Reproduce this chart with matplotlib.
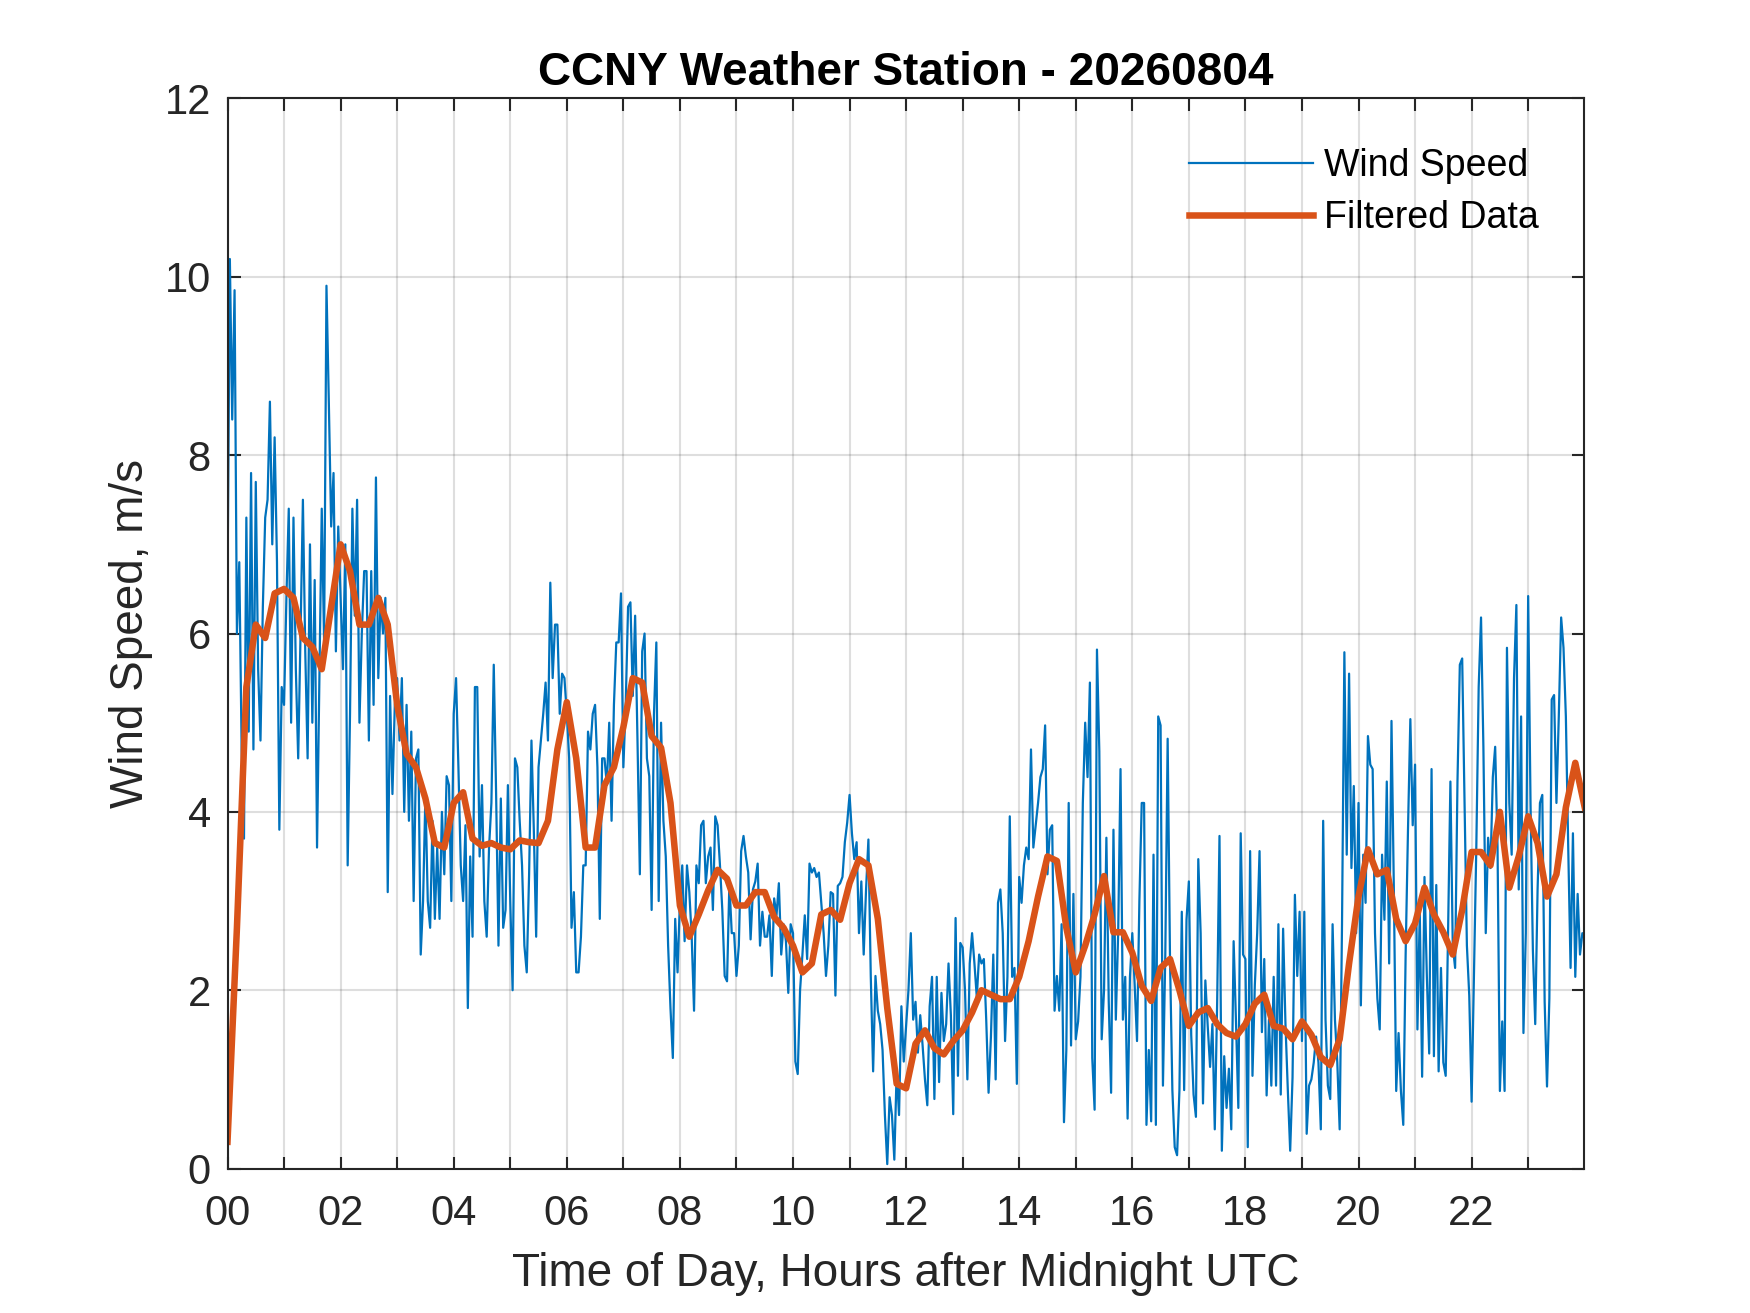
import matplotlib
matplotlib.use('Agg')
import matplotlib.pyplot as plt
import numpy as np

# Wind speed, m/s, every 2.5 minutes (24 per hour, one row per hour)
wind_00_04 = [6.5, 10.2, 8.4, 9.85, 6.0, 6.8, 4.7, 3.7, 7.3, 4.9, 7.8, 4.7, 7.7, 5.6, 4.8, 6.3, 7.3, 7.5, 8.6, 7.0, 8.2, 6.8, 3.8, 5.4,
              5.2, 6.4, 7.4, 5.0, 7.3, 5.6, 4.6, 6.0, 7.5, 5.8, 4.6, 7.0, 5.0, 6.6, 3.6, 5.5, 7.4, 5.9, 9.9, 8.6, 7.2, 7.8, 5.8, 7.2,
              6.4, 5.6, 7.0, 3.4, 5.1, 7.4, 6.2, 7.5, 5.0, 6.0, 6.7, 6.7, 4.8, 6.7, 5.2, 7.75, 5.5, 6.4, 6.0, 6.4, 3.1, 5.3, 4.2, 5.2,
              5.5, 4.8, 5.5, 4.0, 5.2, 3.9, 4.9, 3.0, 4.6, 4.7, 2.4, 3.0, 4.2, 3.0, 2.7, 3.9, 2.8, 3.6, 2.8, 4.0, 3.3, 4.4, 4.3, 3.0]
wind_04_08 = [5.1, 5.5, 4.5, 3.4, 3.0, 3.85, 1.8, 3.5, 2.6, 5.4, 5.4, 3.5, 4.3, 3.0, 2.6, 3.6, 4.1, 5.65, 4.2, 2.5, 4.15, 2.7, 2.9, 4.3,
              3.0, 2.0, 4.6, 4.5, 3.9, 3.4, 2.5, 2.2, 3.3, 4.8, 3.8, 2.6, 4.5, 4.8, 5.1, 5.45, 4.8, 6.57, 5.5, 6.1, 6.1, 5.1, 5.55, 5.5,
              5.1, 4.6, 2.7, 3.1, 2.2, 2.2, 2.6, 3.4, 3.4, 4.9, 4.7, 5.1, 5.2, 4.5, 2.8, 4.6, 4.6, 4.3, 5.0, 3.9, 5.2, 5.9, 5.9, 6.45,
              4.5, 5.2, 6.3, 6.35, 5.3, 6.2, 4.8, 3.3, 5.8, 6.0, 4.6, 4.4, 2.9, 5.1, 5.9, 3.0, 5.0, 3.9, 3.5, 2.5, 1.8, 1.24, 2.8, 2.2]
wind_08_12 = [3.0, 3.4, 2.55, 3.4, 3.1, 2.6, 1.77, 3.4, 3.2, 3.85, 3.9, 3.2, 3.5, 3.6, 2.9, 3.95, 3.85, 3.4, 2.9, 2.16, 2.1, 3.2, 2.64, 2.64,
              2.16, 2.5, 3.56, 3.73, 3.5, 3.32, 2.57, 3.13, 3.22, 3.42, 2.5, 2.88, 2.6, 2.6, 2.84, 2.16, 3.03, 2.84, 3.2, 2.4, 2.74, 2.55, 1.97, 2.74,
              2.64, 1.2, 1.06, 2.0, 2.4, 2.84, 2.35, 3.42, 3.32, 3.37, 3.27, 3.32, 2.98, 2.64, 2.16, 2.5, 3.1, 3.08, 1.94, 3.17, 3.2, 3.27, 3.66, 3.88,
              4.19, 3.76, 3.47, 3.66, 2.64, 3.22, 2.4, 3.13, 3.69, 2.16, 1.09, 2.16, 1.77, 1.62, 1.33, 0.6, 0.05, 0.8, 0.6, 0.1, 1.1, 0.6, 1.82, 1.2]
wind_12_16 = [1.6, 2.0, 2.64, 1.67, 1.87, 1.3, 1.72, 1.38, 1.0, 0.71, 1.82, 2.15, 0.78, 2.15, 0.97, 1.97, 1.43, 1.62, 2.3, 1.72, 0.61, 2.81, 1.04, 2.53,
              2.48, 2.0, 1.0, 2.3, 2.64, 2.3, 1.92, 2.4, 2.3, 2.35, 1.67, 0.85, 1.48, 2.4, 1.0, 2.98, 3.13, 2.64, 1.43, 2.15, 3.95, 2.15, 2.25, 0.95,
              3.27, 2.98, 3.4, 3.6, 3.47, 4.7, 3.6, 3.85, 4.1, 4.39, 4.48, 4.97, 3.3, 3.8, 3.85, 1.77, 2.16, 1.77, 2.74, 0.52, 1.33, 4.1, 1.38, 3.08,
              1.45, 1.65, 2.15, 4.1, 5.0, 4.39, 5.45, 1.24, 0.66, 5.82, 4.68, 1.45, 2.0, 3.71, 1.87, 0.85, 3.8, 1.67, 2.64, 4.48, 1.67, 2.15, 0.56, 2.15]
wind_16_20 = [2.64, 2.06, 1.43, 3.0, 4.1, 4.1, 0.49, 1.33, 0.53, 3.52, 0.49, 5.07, 4.97, 0.93, 2.4, 4.82, 2.35, 0.88, 0.24, 0.15, 0.88, 2.88, 0.88, 2.79,
              3.22, 1.5, 0.83, 0.58, 3.47, 2.64, 0.73, 2.11, 1.6, 1.14, 1.62, 0.44, 1.85, 3.73, 0.2, 1.26, 0.68, 1.12, 0.44, 2.55, 1.65, 0.68, 3.76, 2.4,
              2.35, 0.24, 3.56, 1.04, 2.06, 2.64, 3.56, 1.53, 2.35, 0.82, 1.67, 0.93, 2.15, 0.93, 2.74, 0.83, 2.69, 1.62, 0.88, 0.2, 1.02, 3.07, 2.16, 2.88,
              1.43, 2.88, 0.39, 0.93, 1.0, 1.19, 1.48, 1.19, 0.44, 3.9, 1.67, 0.93, 0.78, 2.74, 1.67, 1.19, 0.44, 2.74, 5.79, 3.52, 5.55, 3.37, 4.29, 2.64]
wind_20_24 = [4.1, 1.83, 3.52, 2.98, 4.85, 4.53, 4.48, 2.64, 1.91, 1.56, 3.52, 2.79, 4.34, 2.3, 5.02, 3.13, 0.87, 1.52, 0.87, 0.49, 2.4, 3.8, 5.04, 3.85,
              4.53, 1.56, 2.88, 1.03, 3.27, 2.16, 1.29, 4.48, 1.26, 3.18, 1.09, 2.25, 1.19, 1.04, 2.64, 4.34, 2.5, 2.25, 4.34, 5.65, 5.72, 4.1, 2.5, 1.94,
              0.75, 2.15, 3.61, 5.4, 6.18, 4.73, 2.64, 3.71, 3.37, 4.39, 4.73, 3.61, 0.87, 1.65, 0.87, 5.84, 4.1, 3.52, 5.5, 6.32, 3.13, 5.07, 1.52, 2.64,
              6.42, 4.1, 2.45, 1.62, 3.13, 4.1, 4.19, 1.87, 0.92, 1.91, 5.26, 5.31, 4.1, 5.07, 6.18, 5.84, 5.07, 3.61, 2.25, 3.76, 2.15, 3.08, 2.4, 2.64,
              2.6]

# Filtered wind speed, one value every 10 minutes (6 per hour)
filt_00_04 = [0.3, 2.7, 5.4, 6.1, 5.95, 6.45,
              6.5, 6.4, 5.95, 5.85, 5.6, 6.3,
              7.0, 6.7, 6.1, 6.1, 6.4, 6.1,
              5.2, 4.65, 4.5, 4.15, 3.65, 3.6]
filt_04_08 = [4.1, 4.22, 3.7, 3.62, 3.65, 3.6,
              3.58, 3.68, 3.66, 3.65, 3.9, 4.7,
              5.23, 4.6, 3.6, 3.6, 4.3, 4.5,
              4.95, 5.5, 5.45, 4.85, 4.72, 4.1]
filt_08_12 = [2.95, 2.6, 2.85, 3.12, 3.35, 3.25,
              2.95, 2.95, 3.1, 3.1, 2.82, 2.7,
              2.5, 2.2, 2.3, 2.85, 2.9, 2.79,
              3.2, 3.47, 3.4, 2.8, 1.8, 0.95]
filt_12_16 = [0.9, 1.4, 1.55, 1.35, 1.28, 1.43,
              1.55, 1.75, 2.0, 1.95, 1.9, 1.9,
              2.15, 2.55, 3.05, 3.5, 3.45, 2.7,
              2.2, 2.5, 2.85, 3.28, 2.65, 2.65]
filt_16_20 = [2.42, 2.05, 1.88, 2.25, 2.35, 2.0,
              1.6, 1.75, 1.8, 1.62, 1.52, 1.48,
              1.62, 1.85, 1.95, 1.6, 1.57, 1.45,
              1.65, 1.5, 1.25, 1.16, 1.45, 2.3]
filt_20_24 = [3.05, 3.58, 3.3, 3.35, 2.8, 2.55,
              2.75, 3.15, 2.85, 2.65, 2.4, 2.9,
              3.55, 3.55, 3.4, 4.0, 3.15, 3.5,
              3.95, 3.65, 3.05, 3.3, 4.05, 4.55,
              4.05]

hour_labels = ['00', '', '02', '', '04', '', '06', '', '08', '', '10', '',
               '12', '', '14', '', '16', '', '18', '', '20', '', '22', '']
y_ticks = [0, 2, 4, 6, 8, 10, 12]

wind = np.array(wind_00_04 + wind_04_08 + wind_08_12 + wind_12_16 + wind_16_20 + wind_20_24)
filt = np.array(filt_00_04 + filt_04_08 + filt_08_12 + filt_12_16 + filt_16_20 + filt_20_24)
t_wind = np.arange(len(wind)) / 24.0
t_filt = np.arange(len(filt)) / 6.0

plt.rcParams['font.family'] = ['Liberation Sans', 'DejaVu Sans']
dark = '#262626'

fig = plt.figure(figsize=(17.5, 13.13), dpi=100)
ax = fig.add_axes([0.13, 0.11, 0.775, 0.815])

ax.plot(t_wind, wind, color='#0072BD', lw=1.6, label='Wind Speed')
ax.plot(t_filt, filt, color='#D95319', lw=4.7, label='Filtered Data')

ax.set_xlim(0, 23.983)
ax.set_ylim(0, 12)
ax.set_xticks(np.arange(len(hour_labels)))
ax.set_xticklabels(hour_labels)
ax.set_yticks(y_ticks)

ax.grid(True, color=dark, alpha=0.15, lw=1.5)
ax.set_axisbelow(True)
ax.tick_params(direction='in', length=9, width=1.5, colors=dark,
               labelsize=30, top=True, right=True)
ax.tick_params(axis='x', pad=18.5)
ax.tick_params(axis='y', pad=12)
for s in ax.spines.values():
    s.set_color(dark)
    s.set_linewidth(1.5)

ax.set_xlabel('Time of Day, Hours after Midnight UTC', fontsize=33, color=dark, labelpad=13)
ax.set_ylabel('Wind Speed, m/s', fontsize=33, color=dark, labelpad=8)
ax.set_title('CCNY Weather Station - 20260804', fontsize=33, fontweight='bold', pad=10)

ax.legend(loc='upper left', bbox_to_anchor=(0.709, 0.9535), frameon=False,
          fontsize=27, handlelength=3.3, handletextpad=0.3, labelspacing=0.42,
          borderpad=0, borderaxespad=0)

fig.savefig('out.png', dpi=100, facecolor='white')
